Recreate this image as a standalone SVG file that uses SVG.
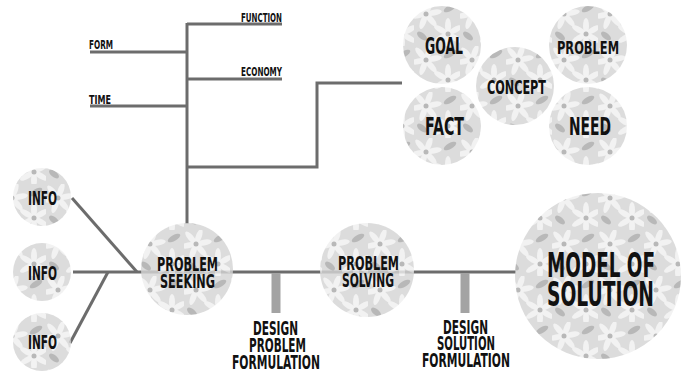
<svg xmlns="http://www.w3.org/2000/svg" width="693" height="374" viewBox="0 0 693 374">
<style>
.ln{stroke:#6c6c6c;stroke-width:3;fill:none;stroke-linecap:butt}
.bar{stroke:#a3a3a3;stroke-width:9;fill:none}
.tx{font-family:"DejaVu Sans Condensed","DejaVu Sans","Liberation Sans",sans-serif;font-weight:bold;fill:#111}
.sm{font-size:12px}
.md{font-size:19px}
.lg{font-size:34px}
.bub{fill:url(#daisy);opacity:0.82}
</style>
<defs>
<pattern id="daisy" width="46" height="46" patternUnits="userSpaceOnUse">
<rect width="46" height="46" fill="#d4d4d4"/>
<g fill="#efefef">
<ellipse cx="12" cy="6" rx="3" ry="8" transform="rotate(20 12 14)"/>
<ellipse cx="12" cy="6" rx="3" ry="8" transform="rotate(80 12 14)"/>
<ellipse cx="12" cy="6" rx="3" ry="8" transform="rotate(140 12 14)"/>
<ellipse cx="12" cy="6" rx="3" ry="8" transform="rotate(200 12 14)"/>
<ellipse cx="12" cy="6" rx="3" ry="8" transform="rotate(260 12 14)"/>
<ellipse cx="12" cy="6" rx="3" ry="8" transform="rotate(320 12 14)"/>
<ellipse cx="34" cy="26" rx="3" ry="8" transform="rotate(0 34 34)"/>
<ellipse cx="34" cy="26" rx="3" ry="8" transform="rotate(60 34 34)"/>
<ellipse cx="34" cy="26" rx="3" ry="8" transform="rotate(120 34 34)"/>
<ellipse cx="34" cy="26" rx="3" ry="8" transform="rotate(180 34 34)"/>
<ellipse cx="34" cy="26" rx="3" ry="8" transform="rotate(240 34 34)"/>
<ellipse cx="34" cy="26" rx="3" ry="8" transform="rotate(300 34 34)"/>
</g>
<g fill="#a9a9a9">
<ellipse cx="36" cy="8" rx="7" ry="3" transform="rotate(-30 36 8)"/>
<ellipse cx="8" cy="36" rx="6" ry="3" transform="rotate(40 8 36)"/>
<circle cx="12" cy="14" r="2.5"/>
<circle cx="34" cy="34" r="2.5"/>
</g>
</pattern>
</defs>
<rect width="693" height="374" fill="#ffffff"/>
<g id="connectors">
<line class="ln" x1="187" y1="23" x2="187" y2="224"/>
<line class="ln" x1="187" y1="24" x2="282" y2="24"/>
<line class="ln" x1="187" y1="79" x2="282" y2="79"/>
<line class="ln" x1="90" y1="52" x2="187" y2="52"/>
<line class="ln" x1="90" y1="106" x2="187" y2="106"/>
<polyline class="ln" points="187,167 317,167 317,83 402,83"/>
<line class="ln" x1="73" y1="272" x2="516" y2="272"/>
<line class="ln" x1="72" y1="198" x2="137" y2="272"/>
<line class="ln" x1="70" y1="343" x2="108" y2="272"/>
<line class="bar" x1="276" y1="273" x2="276" y2="313"/>
<line class="bar" x1="465" y1="273" x2="465" y2="313"/>
</g>
<g id="label-function"><text class="tx sm" x="241" y="22" textLength="41" lengthAdjust="spacingAndGlyphs">FUNCTION</text></g>
<g id="label-economy"><text class="tx sm" x="241" y="76" textLength="41" lengthAdjust="spacingAndGlyphs">ECONOMY</text></g>
<g id="label-form"><text class="tx sm" x="89" y="49" textLength="24" lengthAdjust="spacingAndGlyphs">FORM</text></g>
<g id="label-time"><text class="tx sm" x="89" y="104" textLength="22" lengthAdjust="spacingAndGlyphs">TIME</text></g>
<g id="goal"><circle class="bub" cx="442" cy="45" r="39"/><text class="tx" font-size="23" x="425" y="54" textLength="38" lengthAdjust="spacingAndGlyphs">GOAL</text></g>
<g id="problem"><circle class="bub" cx="588" cy="45" r="39"/><text class="tx" font-size="18" x="557" y="54" textLength="62" lengthAdjust="spacingAndGlyphs">PROBLEM</text></g>
<g id="concept"><circle class="bub" cx="515" cy="86" r="39"/><text class="tx" font-size="19" x="487" y="94" textLength="59" lengthAdjust="spacingAndGlyphs">CONCEPT</text></g>
<g id="fact"><circle class="bub" cx="442" cy="126" r="39"/><text class="tx" font-size="24" x="425" y="135" textLength="39" lengthAdjust="spacingAndGlyphs">FACT</text></g>
<g id="need"><circle class="bub" cx="588" cy="126" r="39"/><text class="tx" font-size="24" x="569" y="135" textLength="42" lengthAdjust="spacingAndGlyphs">NEED</text></g>
<g id="info1"><circle class="bub" cx="42" cy="197" r="29"/><text class="tx" font-size="20" x="28" y="205" textLength="29" lengthAdjust="spacingAndGlyphs">INFO</text></g>
<g id="info2"><circle class="bub" cx="42" cy="272" r="29"/><text class="tx" font-size="20" x="28" y="280" textLength="29" lengthAdjust="spacingAndGlyphs">INFO</text></g>
<g id="info3"><circle class="bub" cx="42" cy="342" r="29"/><text class="tx" font-size="20" x="28" y="349" textLength="29" lengthAdjust="spacingAndGlyphs">INFO</text></g>
<g id="problem-seeking"><circle class="bub" cx="187" cy="269" r="46"/><text class="tx md" x="157" y="271" textLength="61" lengthAdjust="spacingAndGlyphs">PROBLEM</text><text class="tx md" x="160" y="288" textLength="55" lengthAdjust="spacingAndGlyphs">SEEKING</text></g>
<g id="problem-solving"><circle class="bub" cx="367" cy="270" r="47"/><text class="tx md" x="338" y="270" textLength="61" lengthAdjust="spacingAndGlyphs">PROBLEM</text><text class="tx md" x="342" y="287" textLength="52" lengthAdjust="spacingAndGlyphs">SOLVING</text></g>
<g id="model-of-solution"><circle class="bub" cx="598" cy="276" r="83"/><text class="tx lg" x="547" y="277" textLength="108" lengthAdjust="spacingAndGlyphs">MODEL OF</text><text class="tx lg" x="547" y="306" textLength="107" lengthAdjust="spacingAndGlyphs">SOLUTION</text></g>
<g id="design-problem-formulation"><text class="tx md" x="253" y="335" textLength="45" lengthAdjust="spacingAndGlyphs">DESIGN</text><text class="tx md" x="249" y="352" textLength="57" lengthAdjust="spacingAndGlyphs">PROBLEM</text><text class="tx md" x="232" y="369" textLength="88" lengthAdjust="spacingAndGlyphs">FORMULATION</text></g>
<g id="design-solution-formulation"><text class="tx md" x="443" y="334" textLength="45" lengthAdjust="spacingAndGlyphs">DESIGN</text><text class="tx md" x="437" y="350" textLength="58" lengthAdjust="spacingAndGlyphs">SOLUTION</text><text class="tx md" x="422" y="367" textLength="88" lengthAdjust="spacingAndGlyphs">FORMULATION</text></g>
</svg>
